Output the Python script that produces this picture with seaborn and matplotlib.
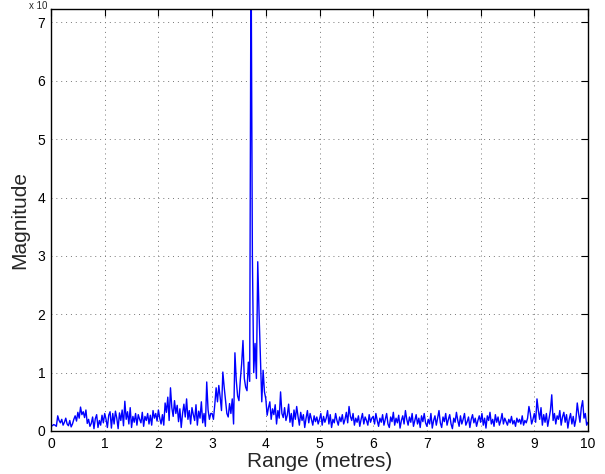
import numpy as np
import pandas as pd
import matplotlib
matplotlib.use("Agg")
import matplotlib.pyplot as plt
import seaborn as sns

# Range samples every 0.025 m; magnitude values (axis units, x10^4) read per metre
seg0 = [0.10,0.09,0.11,0.10,0.08,0.26,0.18,0.14,0.20,0.10,0.15,0.22,0.12,0.09,0.18,0.07,0.12,0.20,0.26,0.17,
        0.32,0.22,0.41,0.28,0.33,0.23,0.36,0.13,0.20,0.08,0.13,0.24,0.04,0.21,0.28,0.06,0.18,0.10,0.27,0.14]
seg1 = [0.30,0.20,0.06,0.27,0.33,0.05,0.30,0.12,0.34,0.22,0.04,0.31,0.18,0.36,0.09,0.51,0.20,0.33,0.12,0.40,
        0.06,0.25,0.15,0.30,0.10,0.28,0.20,0.14,0.32,0.08,0.25,0.18,0.30,0.12,0.27,0.10,0.35,0.22,0.30,0.17]
seg2 = [0.36,0.22,0.12,0.28,0.10,0.48,0.32,0.58,0.18,0.74,0.40,0.25,0.52,0.30,0.44,0.16,0.38,0.06,0.30,0.46,
        0.24,0.55,0.20,0.35,0.12,0.40,0.28,0.18,0.45,0.10,0.34,0.22,0.50,0.14,0.30,0.08,0.84,0.36,0.20,0.30]
seg3 = [0.30,0.20,0.45,0.74,0.50,0.78,0.58,0.35,1.01,0.75,0.52,0.30,0.24,0.47,0.30,0.55,0.12,1.34,0.87,0.60,
        0.52,0.87,1.15,1.55,0.90,0.75,0.69,1.18,0.85,8.50,3.00,1.00,1.50,0.90,2.90,2.00,1.27,0.50,1.04,0.67]
seg4 = [0.55,0.27,0.40,0.50,0.20,0.38,0.28,0.45,0.12,0.35,0.22,0.67,0.30,0.23,0.40,0.18,0.27,0.46,0.15,0.30,
        0.08,0.36,0.20,0.42,0.25,0.10,0.32,0.18,0.28,0.06,0.22,0.35,0.14,0.30,0.20,0.10,0.26,0.16,0.24,0.12]
seg5 = [0.20,0.30,0.10,0.25,0.15,0.22,0.35,0.12,0.28,0.06,0.20,0.14,0.30,0.18,0.10,0.24,0.16,0.28,0.12,0.20,
        0.32,0.14,0.42,0.25,0.18,0.30,0.10,0.22,0.15,0.26,0.08,0.20,0.30,0.12,0.24,0.18,0.10,0.28,0.15,0.22]
seg6 = [0.25,0.12,0.30,0.18,0.08,0.22,0.15,0.28,0.10,0.20,0.30,0.12,0.06,0.24,0.16,0.32,0.10,0.22,0.14,0.27,
        0.05,0.18,0.26,0.12,0.35,0.20,0.10,0.24,0.15,0.30,0.08,0.18,0.28,0.12,0.22,0.06,0.26,0.16,0.30,0.14]
seg7 = [0.08,0.20,0.12,0.30,0.05,0.18,0.26,0.10,0.22,0.35,0.14,0.06,0.24,0.16,0.30,0.10,0.20,0.28,0.12,0.04,
        0.22,0.15,0.32,0.18,0.08,0.26,0.12,0.20,0.30,0.10,0.16,0.24,0.06,0.20,0.28,0.14,0.22,0.08,0.18,0.26]
seg8 = [0.15,0.30,0.10,0.22,0.05,0.26,0.18,0.32,0.12,0.20,0.08,0.28,0.15,0.24,0.10,0.18,0.30,0.12,0.22,0.16,
        0.10,0.20,0.14,0.25,0.12,0.18,0.08,0.22,0.15,0.20,0.12,0.26,0.10,0.18,0.14,0.22,0.42,0.30,0.12,0.20]
seg9 = [0.30,0.15,0.55,0.35,0.20,0.40,0.10,0.28,0.15,0.30,0.08,0.22,0.35,0.62,0.18,0.30,0.12,0.26,0.20,0.35,
        0.10,0.24,0.32,0.15,0.28,0.05,0.20,0.30,0.12,0.25,0.08,0.20,0.48,0.30,0.15,0.40,0.52,0.22,0.30,0.10]
seg_end = [0.15]

x_ticks = list(range(0, 11))
y_ticks = list(range(0, 8))
x_label = "Range (metres)"
y_label = "Magnitude"

magnitude = seg0 + seg1 + seg2 + seg3 + seg4 + seg5 + seg6 + seg7 + seg8 + seg9 + seg_end
step = 0.025
range_m = [round(i * step, 3) for i in range(len(magnitude))]
df = pd.DataFrame({"range": range_m, "magnitude": magnitude})

sns.set_style("white")
plt.rcParams["font.family"] = ["Liberation Sans", "DejaVu Sans"]

fig = plt.figure(figsize=(6.05, 4.74), dpi=100)
ax = fig.add_axes([51 / 605, 1 - 431 / 474, (588 - 51) / 605, (431 - 9) / 474])

sns.lineplot(data=df, x="range", y="magnitude", ax=ax, color=(0, 0, 1), linewidth=1.0,
             estimator=None, sort=False)

ax.set_xlim(0, 10)
ax.set_ylim(0, 7.23)
ax.set_xticks(x_ticks)
ax.set_yticks(y_ticks)
ax.set_xticklabels([str(t) for t in x_ticks])
ax.set_yticklabels([str(t) for t in y_ticks])
ax.tick_params(direction="in", length=5, width=0.8, top=True, right=True,
               labelsize=10, colors="black", pad=4)
ax.grid(True, color="#777777", linestyle=(0, (1, 4)), linewidth=0.7)
for s in ax.spines.values():
    s.set_visible(True)
    s.set_color("black")
    s.set_linewidth(1.0)

ax.set_xlabel(x_label, fontsize=15, labelpad=1)
ax.set_ylabel(y_label, fontsize=15, labelpad=6)

# exponent marker at the top-left corner of the axes
fig.text(38 / 605, 1 - 1 / 474, "x 10", fontsize=7, ha="center", va="top")

fig.savefig("out.png", dpi=100)
